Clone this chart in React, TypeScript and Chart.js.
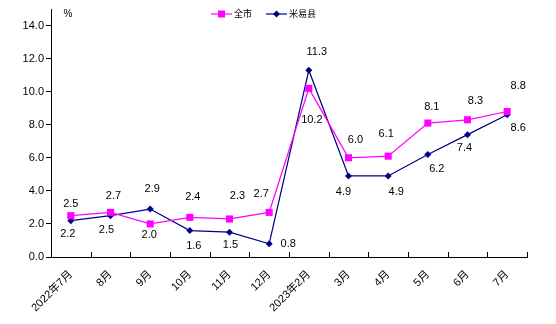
import React, { useEffect, useRef } from "react";
import { Chart, registerables } from "chart.js";

Chart.register(...registerables);

const categories = ["2022年7月", "8月", "9月", "10月", "11月", "12月", "2023年2月", "3月", "4月", "5月", "6月", "7月"];
const cityName = "全市";
const countyName = "米易县";
const cityValues = [2.5, 2.7, 2.0, 2.4, 2.3, 2.7, 10.2, 6.0, 6.1, 8.1, 8.3, 8.8];
const countyValues = [2.2, 2.5, 2.9, 1.6, 1.5, 0.8, 11.3, 4.9, 4.9, 6.2, 7.4, 8.6];
const yTicks = [0, 2, 4, 6, 8, 10, 12, 14];
const unitLabel = "%";

// label placement offsets (relative to each point), styling only
const cityLabelOffsets: [number, number][] = [
  [0, -12], [3, -16], [-1, 11], [3, -20], [8, -23], [-8, -18],
  [3, 32], [7, -18], [-2, -22], [4, -16], [8, -19], [11, -26],
];
const countyLabelOffsets: [number, number][] = [
  [-3, 13], [-4, 14], [2, -20], [4, 15], [1, 13], [19, 0],
  [8, -18], [-5, 16], [8, 16], [9, 14], [-3, 13], [11, 13],
];

const FONT = "'Liberation Sans', Arial, 'Noto Sans CJK SC', sans-serif";
const CITY_COLOR = "#FF00FF";
const COUNTY_COLOR = "#000080";

export default function App() {
  const ref = useRef<HTMLCanvasElement | null>(null);

  useEffect(() => {
    const canvas = ref.current;
    if (!canvas) return;

    const extras = {
      id: "extras",
      afterDatasetsDraw(chart: any) {
        const ctx = chart.ctx;
        const area = chart.chartArea;
        ctx.save();
        // inward x ticks at category boundaries
        ctx.strokeStyle = "#000";
        ctx.lineWidth = 1;
        const n = categories.length;
        const step = (area.right - area.left) / n;
        for (let i = 1; i <= n; i++) {
          const x = Math.round(area.left + i * step) + 0.5;
          ctx.beginPath();
          ctx.moveTo(x, area.bottom - 5);
          ctx.lineTo(x, area.bottom);
          ctx.stroke();
        }
        // data labels
        ctx.fillStyle = "#000";
        ctx.font = `11px ${FONT}`;
        ctx.textAlign = "center";
        ctx.textBaseline = "middle";
        const sets = [
          { vals: cityValues, offs: cityLabelOffsets },
          { vals: countyValues, offs: countyLabelOffsets },
        ];
        sets.forEach((s, di) => {
          const meta = chart.getDatasetMeta(di);
          meta.data.forEach((pt: any, i: number) => {
            const [dx, dy] = s.offs[i];
            ctx.fillText(s.vals[i].toFixed(1), pt.x + dx, pt.y + dy);
          });
        });
        // unit label
        ctx.font = `10px ${FONT}`;
        ctx.fillText(unitLabel, 68, 14);
        // legend
        const drawItem = (x0: number, color: string, marker: string, text: string) => {
          const y = 14;
          ctx.strokeStyle = color;
          ctx.globalAlpha = 0.6;
          ctx.lineWidth = 2;
          ctx.beginPath();
          ctx.moveTo(x0, y);
          ctx.lineTo(x0 + 21, y);
          ctx.stroke();
          ctx.globalAlpha = 1;
          ctx.fillStyle = color;
          const cx = x0 + 10.5;
          if (marker === "rect") {
            ctx.fillRect(cx - 3.5, y - 3.5, 7, 7);
          } else {
            ctx.beginPath();
            ctx.moveTo(cx - 3.5, y);
            ctx.lineTo(cx, y - 3.5);
            ctx.lineTo(cx + 3.5, y);
            ctx.lineTo(cx, y + 3.5);
            ctx.closePath();
            ctx.fill();
          }
          ctx.fillStyle = "#000";
          ctx.font = `9px ${FONT}`;
          ctx.textAlign = "left";
          ctx.fillText(text, x0 + 23, y + 1);
        };
        drawItem(211, CITY_COLOR, "rect", cityName);
        drawItem(266, COUNTY_COLOR, "diamond", countyName);
        ctx.restore();
      },
    };

    const chart = new Chart(canvas, {
      type: "line",
      data: {
        labels: categories,
        datasets: [
          {
            label: cityName,
            data: cityValues,
            borderColor: CITY_COLOR,
            backgroundColor: CITY_COLOR,
            borderWidth: 1.25,
            pointStyle: "rect",
            pointRadius: 5,
            pointBorderWidth: 0,
            tension: 0,
          },
          {
            label: countyName,
            data: countyValues,
            borderColor: COUNTY_COLOR,
            backgroundColor: COUNTY_COLOR,
            borderWidth: 1.25,
            pointStyle: "rectRot",
            pointRadius: 3.5,
            pointBorderWidth: 0,
            tension: 0,
          },
        ],
      },
      options: {
        responsive: false,
        animation: false,
        devicePixelRatio: 1,
        layout: { padding: { top: 9, right: 29, left: 0, bottom: 0 } },
        plugins: {
          legend: { display: false },
          tooltip: { enabled: false },
        },
        scales: {
          x: {
            type: "category",
            offset: true,
            grid: { display: true, drawOnChartArea: false, drawTicks: false },
            border: { display: true, color: "#000", width: 1 },
            ticks: {
              minRotation: 45,
              maxRotation: 45,
              autoSkip: false,
              padding: 11,
              color: "#000",
              font: { family: FONT, size: 11 },
            },
            afterFit: (s: any) => {
              s.height = 67;
            },
          },
          y: {
            min: 0,
            max: 15,
            grid: { display: true, drawOnChartArea: false, drawTicks: true, tickLength: 5, color: "#000" },
            border: { display: true, color: "#000", width: 1 },
            ticks: {
              stepSize: 2,
              padding: 2,
              color: "#000",
              font: { family: FONT, size: 11 },
              callback: (v: any) => Number(v).toFixed(1),
            },
            afterBuildTicks: (s: any) => {
              s.ticks = yTicks.map((v) => ({ value: v }));
            },
            afterFit: (s: any) => {
              s.width = 51;
            },
          },
        },
      },
      plugins: [extras],
    } as any);

    return () => chart.destroy();
  }, []);

  return (
    <div style={{ position: "absolute", left: 0, top: 0, width: 556, height: 324, background: "#fff" }}>
      <canvas ref={ref} width={556} height={324} style={{ width: 556, height: 324 }} />
    </div>
  );
}
